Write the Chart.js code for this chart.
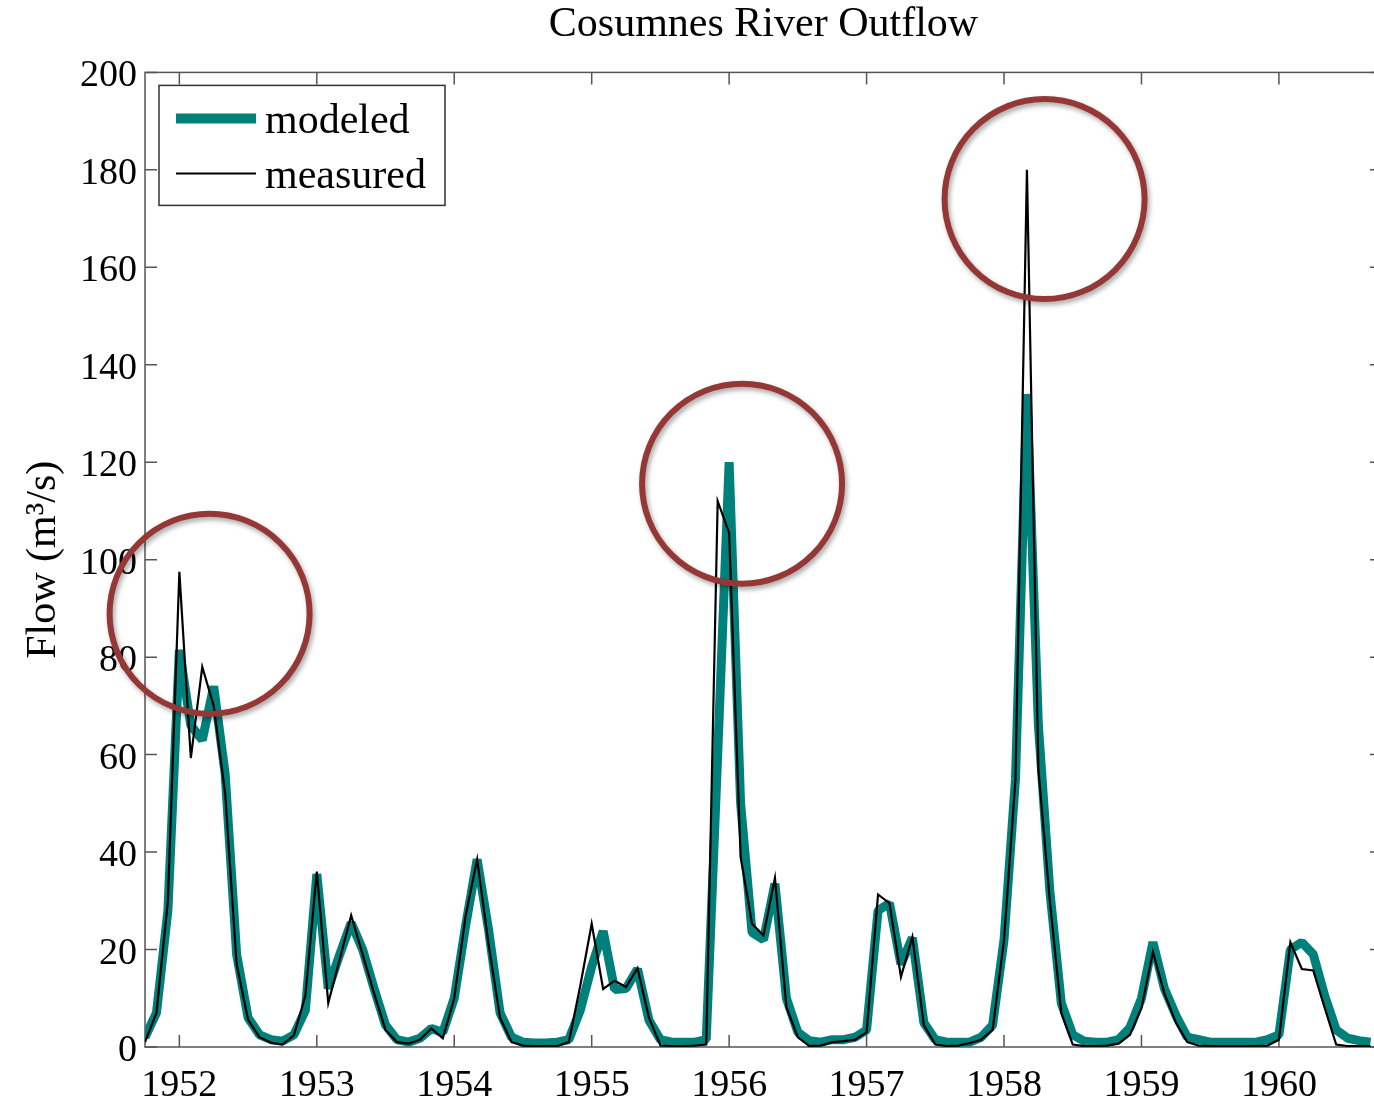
<!DOCTYPE html>
<html>
<head>
<meta charset="utf-8">
<title>Cosumnes River Outflow</title>
<script src="https://cdn.jsdelivr.net/npm/chart.js@4.4.0/dist/chart.umd.min.js"></script>
<style>
  html, body { margin: 0; padding: 0; background: #fff; overflow: hidden; }
  #wrap { width: 1390px; height: 1104px; }
</style>
</head>
<body>
<div id="wrap"><canvas id="chartFlow" width="1390" height="1104"></canvas></div>
<script>
/* monthly flow, Oct 1951 .. Sep 1960 (one row = one water year, Oct..Sep) */
const startYear = 1951.75;
const endYear = 1960.75;
const yearTicks = [1952, 1953, 1954, 1955, 1956, 1957, 1958, 1959, 1960];
const flowTicks = [0, 20, 40, 60, 80, 100, 120, 140, 160, 180, 200];

const modeled = [
  2, 7, 28, 81.5, 66, 63, 74, 56, 19, 6, 2.5, 1.5,
  1.2, 2.5, 7.5, 35.5, 12, 19, 25.5, 20, 12, 4.5, 1.5, 1,
  1.8, 3.8, 3, 10, 25, 38.5, 24, 7, 2, 1, 0.8, 0.8,
  1, 1.5, 7.5, 16.5, 23.8, 11.8, 12, 16, 5.5, 1.5, 1, 1,
  1, 1.5, 60, 120, 50, 23.5, 22, 33.5, 10, 3, 1.3, 1,
  1.5, 1.5, 2, 3.5, 28, 29.5, 17, 22.4, 5, 1.5, 1, 1,
  1, 2, 4.5, 22, 55, 134, 66, 32, 9, 2.5, 1.2, 1,
  1, 1.5, 4, 10, 21.5, 12, 6.5, 2, 1.5, 1, 1, 1,
  1, 1, 1.5, 2.5, 20, 21.5, 19, 10.5, 3.5, 1.8, 1.3, 1
];

const measured = [
  1, 7, 30, 97.5, 59.3, 78, 70, 52, 17, 5.6, 2, 0.9,
  0.5, 2.4, 10.5, 36, 9, 18, 27, 19, 11, 3.5, 1, 0.7,
  1.5, 3.8, 1.8, 10, 27, 38.5, 21, 6, 1, 0.3, 0.2, 0.2,
  0.2, 1, 12.5, 25.3, 11.9, 13.6, 12.3, 16.2, 6, 0.3, 0.2, 0.2,
  0.3, 0.5, 112, 105.5, 39, 25.3, 22.9, 34.7, 8.2, 2, 0.2, 0.3,
  1, 1.2, 1.5, 3, 31.3, 29.5, 14.4, 22.6, 4.5, 0.5, 0.2, 0.3,
  0.8, 1.5, 3.5, 22, 55, 180, 57, 30, 7, 0.5, 0.2, 0.2,
  0.3, 0.7, 2.5, 8, 19.5, 11, 5, 1, 0.3, 0.2, 0.2, 0.2,
  0.2, 0.2, 0.3, 1.5, 21.5, 16, 15.7, 8, 0.5, 0.2, 0.2, 0.2
];

// circled peaks (year, flow)
const highlights = [
  { x: 1952.22, y: 88.9 },
  { x: 1956.094, y: 115.6 },
  { x: 1958.295, y: 174.0 }
];

const SERIF = '"Liberation Serif", "Times New Roman", serif';
const TEAL = '#00807b';
const RED = '#953735';

function toPoints(values) {
  return values.map((v, i) => ({ x: startYear + i / 12, y: v }));
}

// box and inward ticks on all four sides (drawn under the lines)
const framePlugin = {
  id: 'frame',
  beforeDatasetsDraw(chart) {
    const { ctx, chartArea: a, scales: { x, y } } = chart;
    ctx.save();
    ctx.strokeStyle = '#555';
    ctx.lineWidth = 1.5;
    ctx.strokeRect(a.left, a.top, a.right - a.left, a.bottom - a.top);
    ctx.beginPath();
    yearTicks.forEach(v => {
      const px = x.getPixelForValue(v);
      ctx.moveTo(px, a.bottom); ctx.lineTo(px, a.bottom - 12);
      ctx.moveTo(px, a.top); ctx.lineTo(px, a.top + 12);
    });
    flowTicks.forEach(v => {
      const py = y.getPixelForValue(v);
      ctx.moveTo(a.left, py); ctx.lineTo(a.left + 12, py);
      ctx.moveTo(a.right, py); ctx.lineTo(a.right - 12, py);
    });
    ctx.stroke();
    ctx.restore();
  }
};

// legend box + red circles
const overlayPlugin = {
  id: 'overlay',
  afterDraw(chart) {
    const { ctx, chartArea: a, scales: { x, y } } = chart;
    ctx.save();

    const bx = a.left + 14, by = a.top + 13;
    ctx.fillStyle = '#fff';
    ctx.fillRect(bx, by, 286, 120);
    ctx.strokeStyle = '#333';
    ctx.lineWidth = 1.5;
    ctx.strokeRect(bx, by, 286, 120);

    const items = chart.data.datasets;
    const rows = [
      { ds: items[0], w: 10, y: by + 33, text: by + 48 },
      { ds: items[1], w: 2, y: by + 88, text: by + 103 }
    ];
    ctx.font = '42px ' + SERIF;
    ctx.textBaseline = 'alphabetic';
    ctx.textAlign = 'left';
    rows.forEach(r => {
      ctx.beginPath();
      ctx.strokeStyle = r.ds.borderColor;
      ctx.lineWidth = r.w;
      ctx.moveTo(bx + 17, r.y);
      ctx.lineTo(bx + 97, r.y);
      ctx.stroke();
      ctx.fillStyle = '#000';
      ctx.fillText(r.ds.label, bx + 106, r.text);
    });

    ctx.strokeStyle = RED;
    ctx.lineWidth = 6;
    ctx.shadowColor = 'rgba(0,0,0,0.35)';
    ctx.shadowBlur = 5;
    ctx.shadowOffsetX = 2;
    ctx.shadowOffsetY = 3;
    highlights.forEach(h => {
      ctx.beginPath();
      ctx.arc(x.getPixelForValue(h.x), y.getPixelForValue(h.y), 100, 0, Math.PI * 2);
      ctx.stroke();
    });
    ctx.restore();
  }
};

new Chart(document.getElementById('chartFlow'), {
  type: 'line',
  data: {
    datasets: [
      {
        label: 'modeled',
        data: toPoints(modeled),
        borderColor: TEAL,
        borderWidth: 9,
        borderJoinStyle: 'bevel',
        pointRadius: 0,
        tension: 0,
        order: 1
      },
      {
        label: 'measured',
        data: toPoints(measured),
        borderColor: '#000',
        borderWidth: 2.2,
        pointRadius: 0,
        tension: 0,
        order: 0
      }
    ]
  },
  options: {
    responsive: false,
    animation: false,
    devicePixelRatio: 1,
    layout: { padding: { left: 0, top: 0, right: 8, bottom: 0 } },
    plugins: {
      legend: { display: false },
      tooltip: { enabled: false },
      title: {
        display: true,
        fullSize: false,
        text: 'Cosumnes River Outflow',
        color: '#000',
        font: { family: SERIF, size: 42, weight: 'normal' },
        padding: { top: 0, bottom: 22 }
      }
    },
    scales: {
      x: {
        type: 'linear',
        min: startYear,
        max: endYear,
        afterBuildTicks: s => { s.ticks = yearTicks.map(v => ({ value: v })); },
        afterFit: s => { s.height = 57; },
        grid: { display: false, drawTicks: false },
        border: { display: false },
        ticks: {
          autoSkip: false,
          maxRotation: 0,
          padding: 16,
          color: '#000',
          font: { family: SERIF, size: 38 },
          callback: v => String(v)
        }
      },
      y: {
        min: 0,
        max: 200,
        afterBuildTicks: s => { s.ticks = flowTicks.map(v => ({ value: v })); },
        afterFit: s => { s.width = 145; },
        grid: { display: false, drawTicks: false },
        border: { display: false },
        ticks: {
          padding: 8,
          labelOffset: 4,
          color: '#000',
          font: { family: SERIF, size: 38 },
          callback: v => String(v)
        },
        title: {
          display: true,
          text: 'Flow (m³/s)',
          color: '#000',
          font: { family: SERIF, size: 42 },
          padding: { top: 19 }
        }
      }
    }
  },
  plugins: [framePlugin, overlayPlugin]
});
</script>
</body>
</html>
